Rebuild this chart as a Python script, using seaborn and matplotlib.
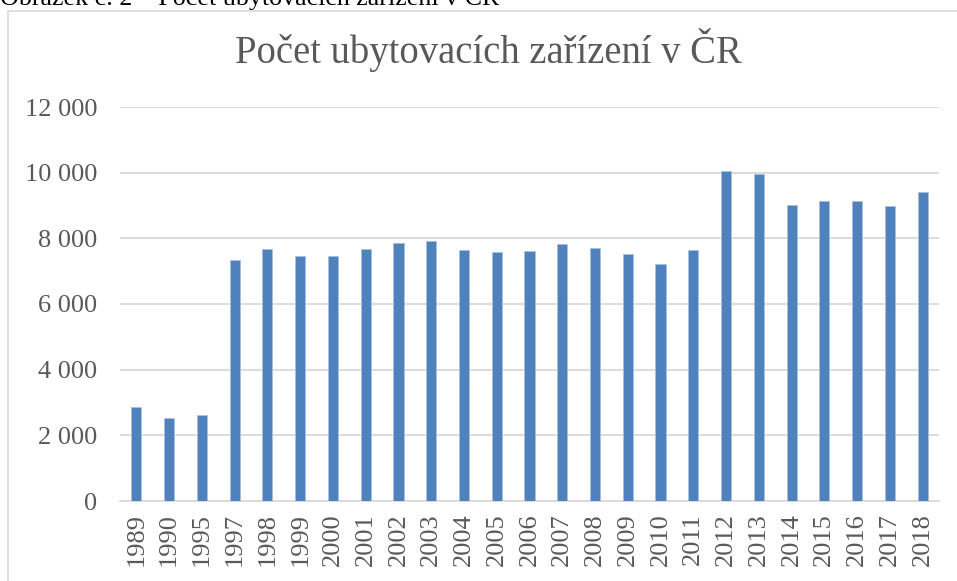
import pandas as pd
import seaborn as sns
import matplotlib.pyplot as plt
from matplotlib.patches import Rectangle
from matplotlib.ticker import FuncFormatter

# Data
years = ["1989", "1990", "1995", "1997", "1998", "1999", "2000", "2001", "2002", "2003",
         "2004", "2005", "2006", "2007", "2008", "2009", "2010", "2011", "2012", "2013",
         "2014", "2015", "2016", "2017", "2018"]
counts = [2850, 2520, 2610, 7330, 7675, 7470, 7450, 7685, 7850, 7910,
          7635, 7580, 7605, 7825, 7695, 7530, 7215, 7645, 10045, 9960,
          9005, 9145, 9145, 8995, 9410]
y_ticks = [0, 2000, 4000, 6000, 8000, 10000, 12000]

df = pd.DataFrame({"Rok": years, "Pocet": counts})

sns.set_theme(style="white")
plt.rcParams["font.family"] = ["Liberation Serif", "DejaVu Serif"]

fig = plt.figure(figsize=(9.57, 5.81), dpi=100)
ax = fig.add_axes([120 / 957, 1 - 501 / 581, 819 / 957, 394 / 581])

sns.barplot(data=df, x="Rok", y="Pocet", color="#4f81bd", width=0.31,
            saturation=1, edgecolor="#a9c1e0", linewidth=0.6, ax=ax, zorder=3)

ax.set_ylim(0, 12000)
ax.set_yticks(y_ticks)
ax.yaxis.set_major_formatter(FuncFormatter(lambda v, p: f"{int(v):,}".replace(",", " ")))
ax.grid(axis="y", color="#d9d9d9", linewidth=1.3, zorder=0)
ax.set_axisbelow(True)
for s in ["top", "right", "left"]:
    ax.spines[s].set_visible(False)
ax.spines["bottom"].set_color("#d9d9d9")
ax.spines["bottom"].set_linewidth(1.3)
ax.set_xlabel("")
ax.set_ylabel("")
ax.tick_params(axis="y", length=0, pad=16.5, labelsize=19, labelcolor="#595959")
ax.tick_params(axis="x", length=0, pad=9, labelsize=19, labelcolor="#595959", rotation=90)

# chart title and caption
fig.text(488 / 957, 1 - 50 / 581, "Počet ubytovacích zařízení v ČR",
         ha="center", va="center", fontsize=27.8, color="#595959")
fig.text(0, 1 - 5 / 581, "Obrázek č. 2 – Počet ubytovacích zařízení v ČR",
         ha="left", va="baseline", fontsize=18.7, color="black")

# chart frame
fig.patches.append(Rectangle((8 / 957, -0.2), 1.2, 1.2 - 11 / 581,
                             transform=fig.transFigure, fill=False,
                             edgecolor="#d9d9d9", linewidth=1.2))

fig.savefig("out.png", dpi=100)
